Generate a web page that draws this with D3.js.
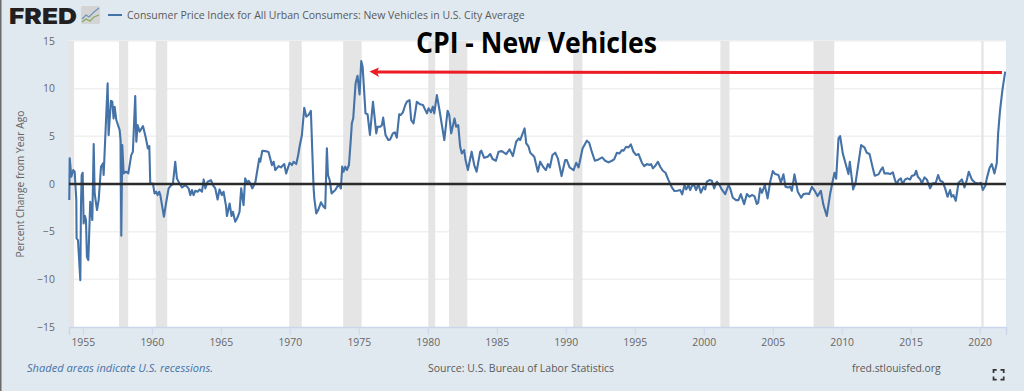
<!DOCTYPE html>
<html>
<head>
<meta charset="utf-8">
<script src="https://cdnjs.cloudflare.com/ajax/libs/d3/7.8.5/d3.min.js"></script>
<style>
html, body { margin: 0; padding: 0; background: #e1e9f0; overflow: hidden; }
svg { display: block; font-family: "Open Sans", sans-serif; }
</style>
</head>
<body>
<svg id="chart" width="1024" height="391"></svg>
<script>
// values: decimal year and percent change from a year ago
const years = [
  1954.02,1954.05,1954.17,1954.31,1954.41,1954.53,1954.55,1954.65,1954.82,1954.87,1954.92,1954.99,
  1955.06,1955.16,1955.23,1955.30,1955.40,1955.54,1955.69,1955.79,1955.86,1956.03,1956.15,1956.32,
  1956.46,1956.51,1956.80,1956.87,1957.04,1957.14,1957.23,1957.31,1957.43,1957.67,1957.74,1957.79,
  1957.86,1957.96,1958.13,1958.30,1958.51,1958.63,1958.80,1958.88,1958.97,1959.12,1959.36,1959.55,
  1959.72,1959.82,1959.89,1960.08,1960.20,1960.32,1960.42,1960.54,1960.62,1960.88,1961.05,1961.22,
  1961.41,1961.53,1961.70,1961.82,1961.94,1962.19,1962.43,1962.67,1962.79,1962.91,1963.03,1963.15,
  1963.32,1963.47,1963.64,1963.76,1963.88,1964.05,1964.29,1964.43,1964.60,1964.77,1964.91,1965.08,
  1965.20,1965.37,1965.45,1965.64,1965.78,1965.88,1966.05,1966.22,1966.36,1966.48,1966.65,1966.77,
  1966.90,1967.02,1967.14,1967.28,1967.50,1967.67,1967.79,1967.86,1968.01,1968.22,1968.46,1968.71,
  1968.83,1968.95,1969.19,1969.36,1969.60,1969.74,1969.99,1970.16,1970.28,1970.47,1970.61,1970.71,
  1970.88,1971.05,1971.20,1971.36,1971.53,1971.65,1971.73,1971.78,1971.92,1972.06,1972.26,1972.45,
  1972.57,1972.69,1972.77,1972.89,1973.03,1973.30,1973.54,1973.71,1973.80,1973.90,1974.02,1974.14,
  1974.29,1974.43,1974.50,1974.60,1974.77,1974.91,1975.06,1975.18,1975.28,1975.49,1975.64,1975.81,
  1976.03,1976.27,1976.36,1976.56,1976.68,1976.77,1976.94,1977.14,1977.28,1977.47,1977.62,1977.76,
  1977.93,1978.05,1978.20,1978.37,1978.49,1978.68,1978.80,1978.97,1979.21,1979.45,1979.65,1979.94,
  1980.06,1980.23,1980.37,1980.47,1980.66,1980.85,1981.20,1981.44,1981.56,1981.70,1981.94,1982.06,
  1982.21,1982.35,1982.47,1982.64,1982.74,1982.91,1983.18,1983.37,1983.54,1983.80,1983.88,1984.09,
  1984.34,1984.53,1984.70,1984.94,1985.13,1985.37,1985.69,1985.93,1986.17,1986.41,1986.60,1986.70,
  1987.02,1987.14,1987.31,1987.43,1987.72,1987.98,1988.15,1988.39,1988.56,1988.71,1988.85,1989.04,
  1989.24,1989.43,1989.70,1989.96,1990.08,1990.28,1990.57,1990.76,1990.93,1991.22,1991.53,1991.70,
  1991.89,1992.11,1992.38,1992.64,1992.86,1993.10,1993.34,1993.51,1993.71,1993.90,1994.07,1994.19,
  1994.38,1994.55,1994.72,1994.91,1995.11,1995.28,1995.52,1995.69,1995.88,1996.07,1996.19,1996.32,
  1996.48,1996.68,1996.85,1997.04,1997.23,1997.45,1997.69,1997.88,1998.10,1998.30,1998.44,1998.61,
  1998.73,1998.90,1999.02,1999.14,1999.31,1999.45,1999.62,1999.79,1999.99,2000.11,2000.23,2000.42,
  2000.59,2000.76,2000.95,2001.15,2001.31,2001.56,2001.80,2001.92,2002.11,2002.35,2002.52,2002.69,
  2002.93,2003.13,2003.32,2003.49,2003.68,2003.85,2003.95,2004.09,2004.22,2004.43,2004.63,2004.82,
  2005.01,2005.18,2005.42,2005.59,2005.78,2005.93,2006.10,2006.27,2006.39,2006.58,2006.82,2007.07,
  2007.23,2007.48,2007.64,2007.84,2008.01,2008.25,2008.49,2008.68,2008.92,2009.17,2009.34,2009.48,
  2009.60,2009.77,2009.89,2010.08,2010.49,2010.59,2010.83,2011.00,2011.41,2011.65,2011.82,2012.02,
  2012.26,2012.40,2012.67,2012.86,2012.98,2013.10,2013.39,2013.51,2013.71,2013.88,2014.00,2014.12,
  2014.29,2014.41,2014.60,2014.77,2014.96,2015.08,2015.28,2015.40,2015.52,2015.69,2015.81,2016.00,
  2016.17,2016.41,2016.58,2016.82,2016.99,2017.14,2017.31,2017.50,2017.67,2017.86,2017.96,2018.10,
  2018.27,2018.47,2018.71,2018.90,2019.07,2019.21,2019.43,2019.67,2019.91,2020.10,2020.23,2020.42,
  2020.52,2020.71,2020.88,2021.07,2021.24,2021.34,2021.48,2021.65,2021.85
];
const changes = [
  -1.69,2.69,0.76,1.46,1.29,-1.69,-5.71,-5.88,-10.08,-2.03,0.94,1.18,
  -4.13,-3.36,-3.78,-7.63,-7.98,-1.86,-3.78,4.19,-0.99,-2.73,-1.69,1.81,
  2.16,0.94,10.55,5.13,8.73,8.63,6.88,8.10,6.71,5.66,4.61,-5.43,
  4.08,1.11,1.29,1.11,3.03,3.38,9.22,4.43,6.18,5.48,6.08,4.96,
  3.73,3.98,0.06,0.06,-0.99,-0.81,-1.16,-0.81,-1.16,-3.43,-1.86,-0.46,
  -0.11,0.0,2.34,0.59,0.24,-0.36,-0.11,-0.46,-1.16,-0.64,-1.16,-0.71,
  -0.81,-0.57,-0.81,0.48,-0.46,0.24,0.41,-0.11,-0.46,-1.62,-0.57,-1.16,
  -0.81,-2.21,-3.36,-2.04,-3.36,-2.91,-3.96,-3.50,-2.91,-0.46,-2.21,0.59,
  0.13,0.34,0.06,-0.46,0.13,1.63,2.68,2.33,3.49,3.45,3.35,1.98,
  2.33,1.46,1.88,1.74,2.09,1.11,2.23,1.98,2.33,2.09,3.03,3.91,
  5.14,8.0,7.06,7.24,7.66,2.69,-0.46,-1.50,-3.08,-2.73,-1.92,-2.38,
  -2.55,3.74,0.94,0.42,-0.98,-0.63,-0.04,-0.46,1.82,1.29,1.82,1.47,
  1.99,4.79,6.36,6.89,10.56,11.36,9.40,12.9,12.31,7.41,7.31,5.14,
  8.63,5.31,6.01,6.01,6.19,6.96,5.14,4.61,4.68,5.31,5.42,4.86,
  7.31,7.24,7.52,8.29,8.63,8.81,6.71,6.36,8.63,8.36,8.29,7.41,
  7.94,7.52,8.11,7.41,9.33,7.76,4.61,7.69,7.23,5.31,6.88,6.0,
  6.18,3.91,3.21,3.56,2.51,1.46,3.39,1.99,1.29,3.39,3.49,2.75,
  2.86,3.14,2.62,2.44,3.39,3.45,3.14,3.63,2.93,4.43,4.78,4.61,
  5.83,4.26,3.91,3.28,2.86,1.29,2.34,1.74,1.46,2.09,1.74,3.04,
  3.28,2.69,0.83,2.51,2.51,1.74,1.46,2.23,1.74,3.73,4.54,4.33,
  3.39,2.44,2.58,2.79,2.44,2.27,2.44,2.58,3.28,3.21,3.56,3.49,
  3.91,3.84,4.15,3.38,3.03,3.14,2.23,1.88,2.09,1.99,2.09,1.64,
  1.88,2.33,1.81,1.39,1.18,0.41,-0.36,-0.74,-0.71,-0.64,-1.09,-0.11,
  -0.57,-0.11,-0.64,-0.22,-0.11,-0.64,0.0,-0.92,-0.29,-0.57,0.24,0.41,
  0.34,-0.46,0.24,-0.11,-0.57,-1.06,-0.11,-0.46,-1.44,-1.69,-1.69,-1.06,
  -2.11,-1.06,-1.34,-1.16,-1.27,-2.1,-1.97,-0.46,-0.92,-0.11,-1.51,0.24,
  1.36,1.04,0.94,0.13,1.01,-0.29,-0.36,-0.29,-0.71,1.01,-0.81,-1.44,
  -1.06,-0.99,-1.06,-0.29,-0.64,-1.27,-0.71,-2.21,-3.36,-0.99,0.24,1.18,
  0.56,4.78,5.03,3.21,1.04,2.33,-0.57,0.06,4.08,3.84,3.28,3.14,
  1.64,0.87,1.01,1.53,1.74,1.11,1.11,1.04,1.22,0.34,-0.01,0.41,
  0.59,-0.01,0.48,0.59,0.48,0.83,0.94,1.39,0.76,0.48,0.06,0.69,
  0.48,-0.46,0.06,0.13,0.94,0.34,0.24,-0.46,-1.34,-0.64,-1.34,-1.16,
  -1.76,0.13,0.48,-0.36,0.41,1.29,0.48,0.13,0.06,0.13,-0.64,-0.15,
  0.59,1.64,2.09,1.11,2.17,5.31,7.76,9.85,11.78
];
const recessionStart = [1953.5, 1957.62, 1960.29, 1969.96, 1973.87, 1980.04, 1981.54, 1990.54, 2001.21, 2007.96, 2020.12];
const recessionEnd = [1954.37, 1958.29, 1961.12, 1970.87, 1975.21, 1980.54, 1982.87, 1991.21, 2001.87, 2009.46, 2020.29];
const xTickYears = [1955, 1960, 1965, 1970, 1975, 1980, 1985, 1990, 1995, 2000, 2005, 2010, 2015, 2020];
const yTickValues = [-15, -10, -5, 0, 5, 10, 15];
const seriesName = "Consumer Price Index for All Urban Consumers: New Vehicles in U.S. City Average";
const yAxisName = "Percent Change from Year Ago";
const annotationTitle = "CPI - New Vehicles";

const svg = d3.select("#chart");
const plotLeft = 69, plotRight = 1006, plotTop = 41, plotBottom = 327;

const x = d3.scaleLinear().domain([1954, 2021.91]).range([plotLeft, plotRight]);
const y = d3.scaleLinear().domain([-15, 15]).range([plotBottom, plotTop]);

// left edge of the screenshot
svg.append("rect").attr("x", 0).attr("y", 0).attr("width", 1.5).attr("height", 391).attr("fill", "#6b6b6b");

// plot background
svg.append("rect").attr("x", plotLeft).attr("y", plotTop)
  .attr("width", plotRight - plotLeft).attr("height", plotBottom - plotTop).attr("fill", "#fff");

// gridlines
svg.append("g").selectAll("line")
  .data(yTickValues.filter(d => d > -15))
  .join("line")
  .attr("x1", plotLeft).attr("x2", plotRight)
  .attr("y1", d => y(d)).attr("y2", d => y(d))
  .attr("stroke", "#f0f0f0").attr("stroke-width", 1.5);

// recessions
svg.append("g").selectAll("rect")
  .data(recessionStart.map((s, i) => [s, recessionEnd[i]]))
  .join("rect")
  .attr("x", d => x(Math.max(d[0], 1954)))
  .attr("width", d => x(d[1]) - x(Math.max(d[0], 1954)))
  .attr("y", plotTop).attr("height", plotBottom - plotTop)
  .attr("fill", "#e5e5e5");

// x axis
const xAxis = svg.append("g")
  .attr("transform", `translate(0,${plotBottom})`)
  .call(d3.axisBottom(x).tickValues(xTickYears).tickFormat(d3.format("d")).tickSize(8).tickPadding(4));
xAxis.select(".domain").attr("stroke", "#ccd6eb").attr("stroke-width", 1.5);
xAxis.selectAll(".tick line").attr("stroke", "#ccd6eb");
xAxis.selectAll("text").attr("fill", "#666").style("font-size", "10.4px").style("font-family", '"Open Sans", sans-serif');

// y axis
const yAxis = svg.append("g")
  .attr("transform", `translate(${plotLeft},0)`)
  .call(d3.axisLeft(y).tickValues(yTickValues).tickSize(0).tickPadding(14));
yAxis.select(".domain").remove();
yAxis.selectAll("text").attr("fill", "#666").style("font-size", "10.4px").style("font-family", '"Open Sans", sans-serif');

svg.append("text")
  .attr("transform", `translate(24,${y(0)}) rotate(-90)`)
  .attr("text-anchor", "middle")
  .attr("fill", "#666").style("font-size", "10.3px")
  .text(yAxisName);

// series
const line = d3.line().x((d, i) => x(years[i])).y(d => y(d));
svg.append("path")
  .attr("d", line(changes))
  .attr("fill", "none")
  .attr("stroke", "#4572a7")
  .attr("stroke-width", 2.1)
  .attr("stroke-linejoin", "round");

// zero line
svg.append("line")
  .attr("x1", plotLeft).attr("x2", plotRight)
  .attr("y1", y(0)).attr("y2", y(0))
  .attr("stroke", "#2b2b2b").attr("stroke-width", 2.4);

// header: logo and legend
svg.append("text").attr("x", 9).attr("y", 24)
  .attr("fill", "#231f20")
  .attr("textLength", 68).attr("lengthAdjust", "spacingAndGlyphs")
  .style("font-family", "Inter, sans-serif").style("font-weight", 900).style("font-size", "22px")
  .text("FRED");
const logo = svg.append("g").attr("transform", "translate(81,6)");
logo.append("rect").attr("width", 19).attr("height", 18).attr("rx", 2).attr("fill", "#d4d4d4");
logo.append("path").attr("d", "M1,13L5,9L8,11L13,6L18,2").attr("fill", "none").attr("stroke", "#6f93b8").attr("stroke-width", 1.1);
logo.append("path").attr("d", "M1,16L5,13L9,15L13,11L18,9").attr("fill", "none").attr("stroke", "#85a85c").attr("stroke-width", 1.1);

svg.append("line").attr("x1", 108).attr("x2", 122).attr("y1", 15).attr("y2", 15)
  .attr("stroke", "#4572a7").attr("stroke-width", 2);
svg.append("text").attr("x", 127).attr("y", 19)
  .attr("fill", "#595959").style("font-size", "10.5px")
  .text(seriesName);

// annotation added on top of the chart
svg.append("text").attr("x", 416).attr("y", 52.5)
  .attr("fill", "#000")
  .attr("textLength", 241).attr("lengthAdjust", "spacingAndGlyphs")
  .style("font-family", '"Open Sans", sans-serif').style("font-weight", 700).style("font-size", "28px")
  .text(annotationTitle);

const arrowY = px => 72 + (px - 379) * 0.001;
svg.append("line").attr("x1", 1002).attr("x2", 376)
  .attr("y1", arrowY(1002)).attr("y2", arrowY(376))
  .attr("stroke", "#ed1c24").attr("stroke-width", 3);
svg.append("path").attr("d", "M369.5,71.5L379,67.5L377,72L379,77Z").attr("fill", "#ed1c24");

// footer
svg.append("text").attr("x", 27).attr("y", 371.5)
  .attr("fill", "#4572a7").style("font-size", "11.1px").style("font-style", "italic")
  .text("Shaded areas indicate U.S. recessions.");
svg.append("text").attr("x", 428).attr("y", 371.5)
  .attr("fill", "#595959").style("font-size", "10.5px")
  .text("Source: U.S. Bureau of Labor Statistics");
svg.append("text").attr("x", 852).attr("y", 371.5)
  .attr("fill", "#595959").style("font-size", "10.4px")
  .text("fred.stlouisfed.org");

// fullscreen icon
svg.append("path")
  .attr("d", "M993.5,373V369.8H996.7M1000.5,369.8H1003.7V373M1003.7,376.5V379.7H1000.5M996.7,379.7H993.5V376.5")
  .attr("fill", "none").attr("stroke", "#333").attr("stroke-width", 1.7);
</script>
</body>
</html>
